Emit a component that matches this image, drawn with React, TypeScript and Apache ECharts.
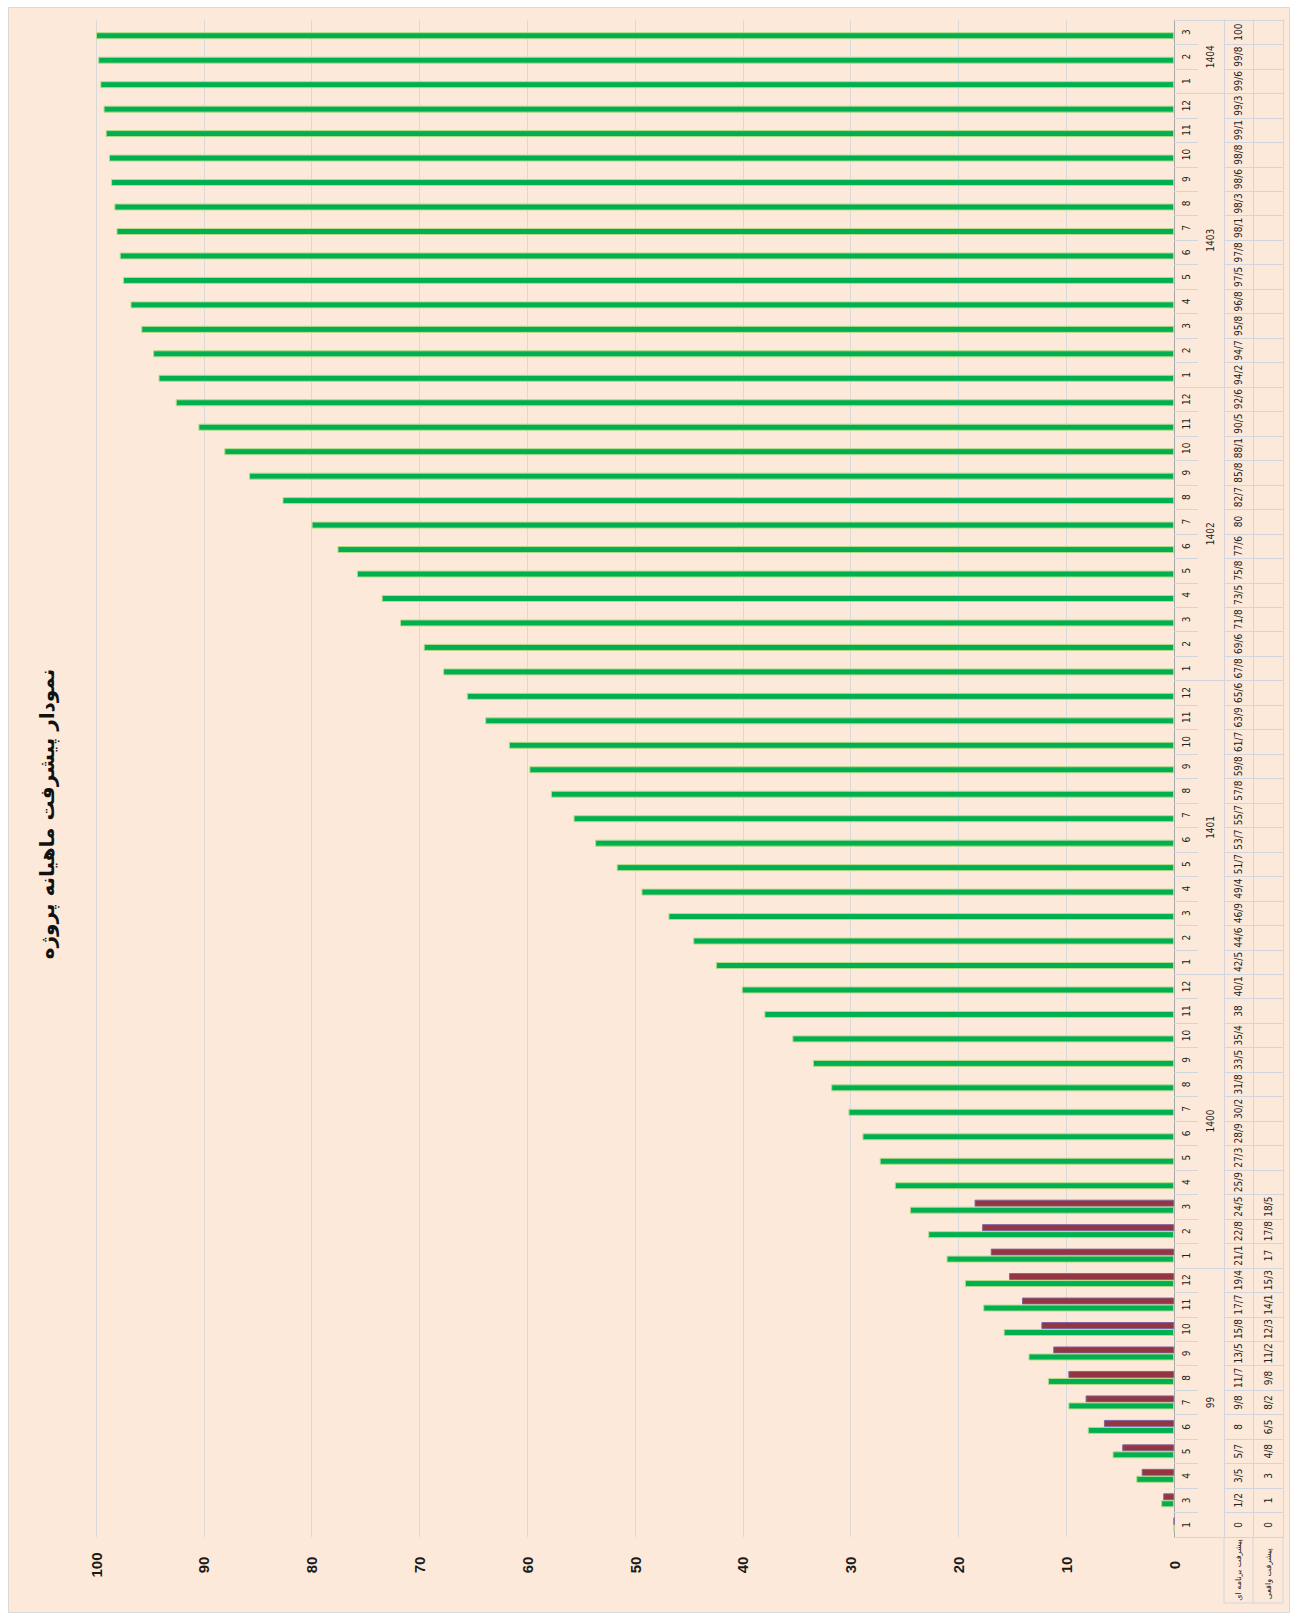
import React, { useEffect, useRef } from 'react';
import * as echarts from 'echarts';

const chartTitle = 'نمودار پیشرفت ماهیانه پروژه';
const seriesNames = ['پیشرفت برنامه ای', 'پیشرفت واقعی'];

const months = [
  '1', '3', '4', '5', '6', '7', '8', '9', '10', '11', '12',
  '1', '2', '3', '4', '5', '6', '7', '8', '9', '10', '11', '12',
  '1', '2', '3', '4', '5', '6', '7', '8', '9', '10', '11', '12',
  '1', '2', '3', '4', '5', '6', '7', '8', '9', '10', '11', '12',
  '1', '2', '3', '4', '5', '6', '7', '8', '9', '10', '11', '12',
  '1', '2', '3',
];

const yearGroups = ['99', '1400', '1401', '1402', '1403', '1404'];
const yearCounts = [11, 12, 12, 12, 12, 3];

const planned = [
  0, 1.2, 3.5, 5.7, 8, 9.8, 11.7, 13.5, 15.8, 17.7, 19.4,
  21.1, 22.8, 24.5, 25.9, 27.3, 28.9, 30.2, 31.8, 33.5, 35.4, 38, 40.1,
  42.5, 44.6, 46.9, 49.4, 51.7, 53.7, 55.7, 57.8, 59.8, 61.7, 63.9, 65.6,
  67.8, 69.6, 71.8, 73.5, 75.8, 77.6, 80, 82.7, 85.8, 88.1, 90.5, 92.6,
  94.2, 94.7, 95.8, 96.8, 97.5, 97.8, 98.1, 98.3, 98.6, 98.8, 99.1, 99.3,
  99.6, 99.8, 100,
];

const actual: (number | null)[] = [
  0, 1, 3, 4.8, 6.5, 8.2, 9.8, 11.2, 12.3, 14.1, 15.3,
  17, 17.8, 18.5,
];

const fmt = (v: number | null | undefined) =>
  v === null || v === undefined ? '' : String(v).replace('.', '/');

const FONT = "'Liberation Sans Narrow','DejaVu Sans Condensed','Liberation Sans',sans-serif";
const LINE = '#D0D5DE';

export default function App() {
  const ref = useRef<HTMLDivElement>(null);

  useEffect(() => {
    if (!ref.current) return;
    const chart = echarts.init(ref.current, undefined, { renderer: 'svg' });

    const n = months.length;
    const boundaries: number[] = [0];
    const centers: number[] = [];
    let acc = 0;
    yearCounts.forEach((c) => {
      centers.push(acc + c / 2);
      acc += c;
      boundaries.push(acc);
    });
    const actualFull = months.map((_, i) => (i < actual.length ? actual[i] : null));

    const catLabel = {
      interval: 0,
      rotate: 90,
      align: 'center',
      verticalAlign: 'middle',
      fontSize: 10,
      color: '#222',
      fontFamily: FONT,
    };

    const option: any = {
      animation: false,
      backgroundColor: 'transparent',
      grid: { left: 96, right: 119, top: 20, bottom: 82, containLabel: false },
      xAxis: {
        type: 'value',
        inverse: true,
        min: 0,
        max: 100,
        interval: 10,
        position: 'bottom',
        axisLine: { show: false },
        axisTick: { show: false },
        splitLine: { show: true, lineStyle: { color: '#D9D9D9', width: 1 } },
        axisLabel: {
          rotate: 90,
          align: 'center',
          verticalAlign: 'middle',
          margin: 28,
          fontSize: 15,
          fontWeight: 'bold',
          color: '#1a1a1a',
          fontFamily: "'Liberation Sans',sans-serif",
        },
      },
      yAxis: [
        {
          type: 'category',
          data: months,
          position: 'right',
          axisLine: { show: true, lineStyle: { color: '#A6A6A6' } },
          axisTick: { show: true, length: 24, lineStyle: { color: LINE } },
          axisLabel: { ...catLabel, margin: 12 },
          splitLine: { show: false },
        },
        {
          type: 'value',
          min: 0,
          max: n,
          position: 'right',
          offset: 0,
          axisLine: { show: false },
          axisTick: { show: true, customValues: boundaries, length: 50, lineStyle: { color: LINE } },
          axisLabel: {
            customValues: centers,
            formatter: (v: number) => {
              const k = centers.findIndex((c) => Math.abs(c - v) < 1e-6);
              return k >= 0 ? yearGroups[k] : '';
            },
            rotate: 90,
            align: 'center',
            verticalAlign: 'middle',
            margin: 36,
            fontSize: 10,
            color: '#222',
            fontFamily: FONT,
          },
          splitLine: { show: false },
        },
        {
          type: 'category',
          data: months,
          position: 'right',
          offset: 50,
          axisLine: { show: true, lineStyle: { color: LINE } },
          axisTick: { show: true, length: 59, lineStyle: { color: LINE } },
          axisLabel: { ...catLabel, margin: 14, formatter: (_v: string, i: number) => fmt(planned[i]) },
          splitLine: { show: false },
        },
        {
          type: 'category',
          data: months,
          position: 'right',
          offset: 79,
          axisLine: { show: true, lineStyle: { color: LINE } },
          axisTick: { show: false },
          axisLabel: { ...catLabel, margin: 15, formatter: (_v: string, i: number) => fmt(actualFull[i]) },
          splitLine: { show: false },
        },
        {
          type: 'category',
          data: months,
          position: 'right',
          offset: 109,
          axisLine: { show: true, lineStyle: { color: LINE } },
          axisTick: { show: false },
          axisLabel: { show: false },
          splitLine: { show: false },
        },
      ],
      series: [
        {
          name: seriesNames[1],
          type: 'bar',
          yAxisIndex: 0,
          data: actualFull,
          barWidth: 7,
          barGap: '0%',
          itemStyle: { color: '#943642', borderColor: '#8064A2', borderWidth: 1 },
        },
        {
          name: seriesNames[0],
          type: 'bar',
          yAxisIndex: 0,
          data: planned,
          barWidth: 7,
          barGap: '0%',
          itemStyle: { color: '#00B050', borderColor: '#B9D98A', borderWidth: 1 },
        },
      ],
      graphic: [
        {
          type: 'rect',
          z: -100,
          silent: true,
          shape: { x: 8.5, y: 7.5, width: 1281, height: 1605 },
          style: { fill: '#FDE9D9', stroke: '#D9D9D9', lineWidth: 1 },
        },
        {
          type: 'text',
          x: 47,
          y: 814,
          rotation: Math.PI / 2,
          style: {
            text: chartTitle,
            font: "bold 20px 'DejaVu Sans', sans-serif",
            fill: '#111',
            textAlign: 'center',
            textVerticalAlign: 'middle',
          },
        },
        { type: 'line', shape: { x1: 1224, y1: 1537, x2: 1224, y2: 1603 }, style: { stroke: LINE, lineWidth: 1 } },
        { type: 'line', shape: { x1: 1253, y1: 1537, x2: 1253, y2: 1603 }, style: { stroke: LINE, lineWidth: 1 } },
        { type: 'line', shape: { x1: 1283, y1: 1537, x2: 1283, y2: 1603 }, style: { stroke: LINE, lineWidth: 1 } },
        { type: 'line', shape: { x1: 1224, y1: 1603, x2: 1283, y2: 1603 }, style: { stroke: LINE, lineWidth: 1 } },
        {
          type: 'text',
          x: 1238,
          y: 1570,
          rotation: Math.PI / 2,
          style: {
            text: seriesNames[0],
            font: "8px 'DejaVu Sans', sans-serif",
            fill: '#222',
            textAlign: 'center',
            textVerticalAlign: 'middle',
          },
        },
        {
          type: 'text',
          x: 1268,
          y: 1574,
          rotation: Math.PI / 2,
          style: {
            text: seriesNames[1],
            font: "8px 'DejaVu Sans', sans-serif",
            fill: '#222',
            textAlign: 'center',
            textVerticalAlign: 'middle',
          },
        },
      ],
    };

    chart.setOption(option);
    return () => chart.dispose();
  }, []);

  return (
    <div style={{ position: 'absolute', left: 0, top: 0, width: 1293, height: 1619, background: '#FFFFFF' }}>
      <div ref={ref} style={{ width: 1293, height: 1619 }} />
    </div>
  );
}
